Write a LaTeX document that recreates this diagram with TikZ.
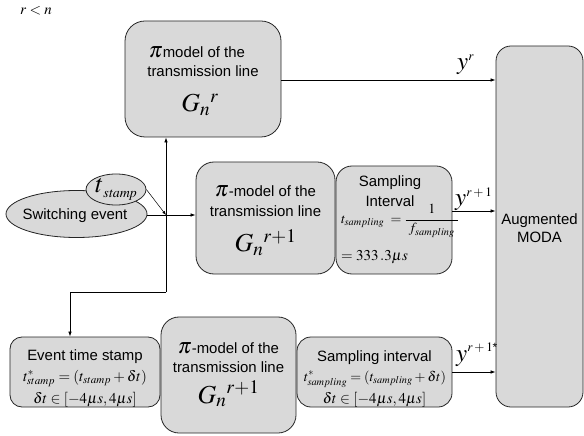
\documentclass[tikz,border=0pt]{standalone}
\usepackage{mathptmx}
\usepackage{fontspec}
\setmainfont{Liberation Sans}
\usetikzlibrary{arrows.meta,shapes.geometric}
\definecolor{panelgray}{HTML}{D9D9D9}
\newcommand{\bigpi}{{\fontsize{22}{22}\selectfont$\pi$}}
\newcommand{\Gsym}[1]{{\fontsize{26}{26}\selectfont$G_n{}^{#1}$}}
\newcommand{\sups}[1]{\mbox{\fontsize{13}{13}\selectfont$#1$}}
\tikzset{
  panel/.style={draw=black!85, line width=0.8bp, fill=panelgray, rounded corners=16bp, inner sep=0pt},
  oval/.style={ellipse, draw=black!85, line width=0.8bp, fill=panelgray, inner sep=0pt},
  txt/.style={anchor=base, inner sep=0pt, font=\fontsize{15}{18}\selectfont},
  link/.style={draw=black, line width=0.7bp},
  tip/.style={-{Latex[length=5bp,width=3.5bp]}},
  outlabel/.style={anchor=base west, inner sep=0pt, font=\fontsize{25}{25}\selectfont}
}
\begin{document}
\begin{tikzpicture}[x=1bp,y=-1bp]
\useasboundingbox (0,0) rectangle (584,436);

% condition
\node[txt] (cond) at (36,15) {$r<n$};

% ---------------- boxes ----------------
\node[panel, rounded corners=15bp, minimum width=87bp, minimum height=361bp] (moda) at (539.5,226.5) {};
\node[panel, rounded corners=20bp, minimum width=156bp, minimum height=116bp] (piTop) at (203,79) {};
\node[panel, rounded corners=18bp, minimum width=139bp, minimum height=112bp] (piMid) at (265.5,218) {};
\node[panel, rounded corners=16bp, minimum width=116bp, minimum height=108bp] (sampMid) at (394,220) {};
\node[panel, rounded corners=12bp, minimum width=150bp, minimum height=70bp] (evt) at (85,372) {};
\node[panel, rounded corners=18bp, minimum width=135bp, minimum height=116bp] (piBot) at (228.5,375) {};
\node[panel, rounded corners=14bp, minimum width=155bp, minimum height=70bp] (sampBot) at (374.5,372) {};

% ---------------- box texts ----------------
\node[txt] (modaA) at (539.5,225) {Augmented};
\node[txt] (modaB) at (539.5,243) {MODA};

\node[txt] (piTopA) at (197,58) {\bigpi model of the};
\node[txt] (piTopB) at (203,77) {transmission line};
\node[txt] (piTopG) at (200,112) {\Gsym{r}};

\node[txt] (piMidA) at (265.5,197) {\bigpi-model of the};
\node[txt] (piMidB) at (265.5,217) {transmission line};
\node[txt] (piMidG) at (265.5,252) {\Gsym{r+1}};

\node[txt] (sampMidA) at (390,187) {Sampling};
\node[txt] (sampMidB) at (390,207) {Interval};
\node[anchor=west, inner sep=0pt, font=\fontsize{14}{14}\selectfont] (sampMidF) at (341,221)
  {$\displaystyle t_{sampling}\;=\frac{1}{\;f_{sampling}\;}$};
\node[anchor=base west, inner sep=0pt, font=\fontsize{15}{15}\selectfont] (sampMidV) at (341,261)
  {$=333\,.3\mu s$};

\node[txt] (evtA) at (85,360) {Event time stamp};
\node[txt] (evtF) at (85,381) {$t^{*}_{stamp}=(t_{stamp}+\delta t)$};
\node[txt] (evtD) at (85,403) {$\delta t\in[-4\mu s,4\mu s]$};

\node[txt] (piBotA) at (228.5,353) {\bigpi-model of the};
\node[txt] (piBotB) at (228.5,372) {transmission line};
\node[txt] (piBotG) at (228.5,403) {\Gsym{r+1}};

\node[txt] (sampBotA) at (374.5,361) {Sampling interval};
\node[txt, font=\fontsize{14}{14}\selectfont] (sampBotF) at (375,381) {$t^{*}_{sampling}=(t_{sampling}+\delta t)$};
\node[txt] (sampBotD) at (374.5,403) {$\delta t\in[-4\mu s,4\mu s]$};

% ---------------- trigger ----------------
\node[oval, minimum width=141bp, minimum height=47bp] (sw) at (76.5,214) {};
\node[txt] (swT) at (75,220) {Switching event};
\node[oval, minimum width=60bp, minimum height=27bp] (ts) at (116,189.5)
  {{\fontsize{26}{26}\selectfont$t$}\raisebox{-5bp}{\fontsize{14}{14}\selectfont$\mathit{stamp}$}};

% routing points
\coordinate (hub) at (166,215);
\coordinate (elbow) at (166,292);
\coordinate (drop) at (70,292);

% ---------------- connectors ----------------
\draw[link,tip] ([yshift=-1bp]sw.east) -- ([yshift=-1bp]sw.east -| piMid.west);
\draw[link,line width=0.5bp,-{Latex[length=4bp,width=3bp]}] (ts.east) -- (hub);
\draw[link,tip] (elbow) -- (elbow |- piTop.south);
\draw[link,tip] (elbow) -- (drop) -- (drop |- evt.north);
\draw[link,tip] ([yshift=-1bp]piTop.east) -- ([yshift=-1bp]piTop.east -| moda.west);
\draw[link,tip] ([yshift=9bp]sampMid.east) -- ([yshift=9bp]sampMid.east -| moda.west);
\draw[link,tip] (sampBot.east) -- (sampBot.east -| moda.west);

% output labels
\node[outlabel] (yr) at (457,70) {$y^{\sups{r}}$};
\node[outlabel] (yr1) at (455,206) {$y^{\sups{r+1}}$};
\node[outlabel] (yr1s) at (456,361) {$y^{\sups{r+1}\mbox{\fontsize{12}{12}\selectfont *}}$};
\end{tikzpicture}
\end{document}
